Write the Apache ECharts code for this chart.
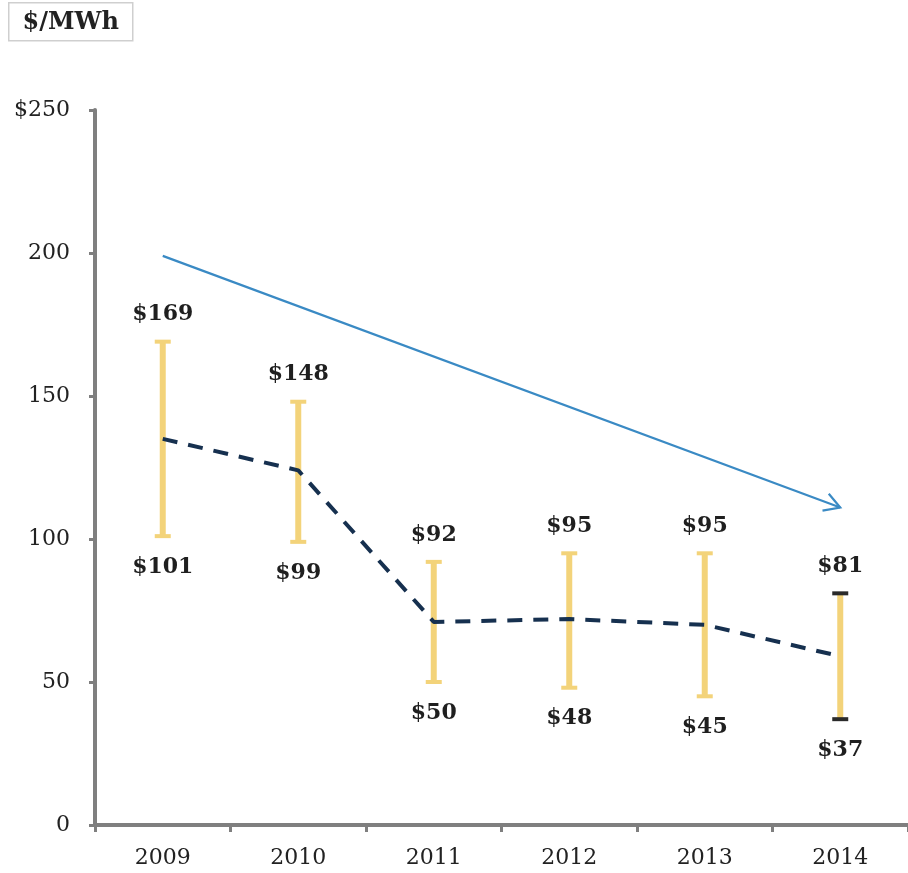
<!DOCTYPE html>
<html>
<head>
<meta charset="utf-8">
<script src="https://cdn.jsdelivr.net/npm/echarts@6/dist/echarts.min.js"></script>
<style>
html, body { margin: 0; padding: 0; background: #fff; }
#chart { width: 908px; height: 873px; }
</style>
</head>
<body>
<div id="chart"></div>
<script>
//年份
var years = ['2009', '2010', '2011', '2012', '2013', '2014'];
//区间低值、高值 ($/MWh)
var lowValues = [101, 99, 50, 48, 45, 37];
var highValues = [169, 148, 92, 95, 95, 81];
//虚线（均值）
var midValues = [135, 124, 71, 72, 70, 59];
//趋势箭头 起点/终点 [年份序号, 值]
var arrowStart = [0, 199];
var arrowEnd = [5, 111];
//y轴刻度
var yMin = 0, yMax = 250, yStep = 50;

var serif = '"DejaVu Serif", "Liberation Serif", serif';
var gold = '#f3d37a';

var rangeData = years.map(function (y, i) {
    return [i, lowValues[i], highValues[i]];
});

function renderRange(params, api) {
    var x = api.value(0);
    var lo = api.value(1), hi = api.value(2);
    var top = api.coord([x, hi]);
    var bot = api.coord([x, lo]);
    var half = 8;
    var capColor = params.dataIndex === years.length - 1 ? '#2a2a2a' : gold;
    return {
        type: 'group',
        children: [
            { type: 'line', shape: { x1: top[0], y1: top[1], x2: bot[0], y2: bot[1] }, style: { stroke: gold, lineWidth: 6 } },
            { type: 'line', shape: { x1: top[0] - half, y1: top[1], x2: top[0] + half, y2: top[1] }, style: { stroke: capColor, lineWidth: 4 } },
            { type: 'line', shape: { x1: bot[0] - half, y1: bot[1], x2: bot[0] + half, y2: bot[1] }, style: { stroke: capColor, lineWidth: 4 } },
            { type: 'text', style: { text: '$' + hi, x: top[0], y: top[1] - 27, align: 'center', verticalAlign: 'middle', font: 'bold 22px ' + serif, fill: '#1f1f1f' } },
            { type: 'text', style: { text: '$' + lo, x: bot[0], y: bot[1] + 31, align: 'center', verticalAlign: 'middle', font: 'bold 22px ' + serif, fill: '#1f1f1f' } }
        ]
    };
}

function renderArrow(params, api) {
    var a = api.coord([api.value(0), api.value(1)]);
    var b = api.coord([api.value(2), api.value(3)]);
    var ang = Math.atan2(b[1] - a[1], b[0] - a[0]);
    var len = 18, spread = Math.PI / 6;
    var h1 = [b[0] - len * Math.cos(ang - spread), b[1] - len * Math.sin(ang - spread)];
    var h2 = [b[0] - len * Math.cos(ang + spread), b[1] - len * Math.sin(ang + spread)];
    var st = { stroke: '#3a8ac4', lineWidth: 2.2, fill: 'none' };
    return {
        type: 'group',
        children: [
            { type: 'line', shape: { x1: a[0], y1: a[1], x2: b[0], y2: b[1] }, style: st },
            { type: 'polyline', shape: { points: [h1, b, h2] }, style: st }
        ]
    };
}

var chart = echarts.init(document.getElementById('chart'));
var option = {
    backgroundColor: '#fff',
    animation: false,
    grid: { left: 95, right: -5, top: 110, bottom: 48 },
    graphic: [{
        type: 'group', left: 8, top: 2,
        children: [
            { type: 'rect', shape: { x: 0, y: 0, width: 124, height: 38 }, style: { fill: '#fff', stroke: '#cfcfcf', lineWidth: 1.5 } },
            { type: 'text', style: { text: '$/MWh', x: 62, y: 20, align: 'center', verticalAlign: 'middle', font: 'bold 24px ' + serif, fill: '#222' } }
        ]
    }],
    xAxis: {
        type: 'category',
        data: years,
        boundaryGap: true,
        axisLine: { lineStyle: { color: '#7f7f7f', width: 4 } },
        axisTick: { show: true, length: 7, lineStyle: { color: '#7f7f7f', width: 3 } },
        axisLabel: { margin: 22, fontFamily: serif, fontSize: 22, color: '#222' }
    },
    yAxis: {
        type: 'value',
        min: yMin, max: yMax, interval: yStep,
        axisLine: { show: true, lineStyle: { color: '#7f7f7f', width: 4 } },
        axisTick: { show: true, length: 6, lineStyle: { color: '#7f7f7f', width: 3 } },
        splitLine: { show: false },
        axisLabel: {
            margin: 25, fontFamily: serif, fontSize: 22, color: '#222',
            formatter: function (v) { return v === yMax ? '$' + v : String(v); }
        }
    },
    series: [
        {
            type: 'custom',
            renderItem: renderRange,
            data: rangeData,
            encode: { x: 0, y: [1, 2] },
            z: 2
        },
        {
            type: 'line',
            data: midValues,
            symbol: 'none',
            lineStyle: { color: '#16304f', width: 4, type: [15, 11] },
            z: 3
        },
        {
            type: 'custom',
            renderItem: renderArrow,
            data: [[arrowStart[0], arrowStart[1], arrowEnd[0], arrowEnd[1]]],
            encode: { x: [0, 2], y: [1, 3] },
            z: 4
        }
    ]
};
chart.setOption(option);
</script>
</body>
</html>
